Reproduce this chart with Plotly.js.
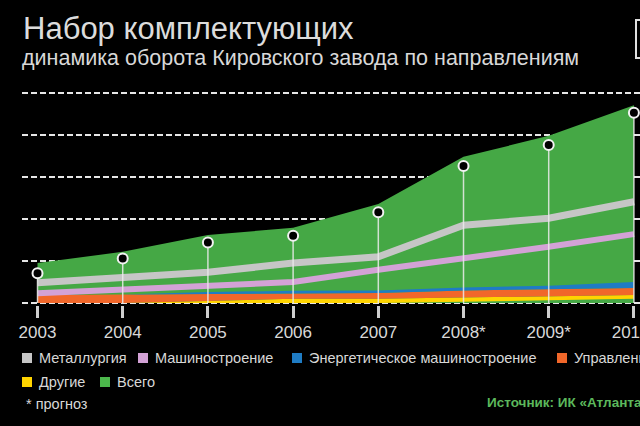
<!DOCTYPE html>
<html>
<head>
<meta charset="utf-8">
<script src="https://cdn.plot.ly/plotly-3.0.1.min.js"></script>
<style>
  html, body { margin: 0; padding: 0; background: #000; overflow: hidden; }
  #chart { width: 760px; height: 426px; }
</style>
</head>
<body>
<div id="chart"></div>
<script>
// Values (one grid step = 1 unit, no y labels shown).
const years = [2003, 2004, 2005, 2006, 2007, 2008, 2009, 2010];
const yearLabels = ["2003", "2004", "2005", "2006", "2007", "2008*", "2009*", "2010*"];
const totalTurnover = [0.95, 1.22, 1.62, 1.79, 2.36, 3.48, 3.98, 4.71];
const totalMarkers = [0.71, 1.06, 1.44, 1.6, 2.16, 3.26, 3.76, 4.53];
const metallurgy = [0.48, 0.6, 0.73, 0.95, 1.1, 1.85, 2.02, 2.41];
const machineBuilding = [0.23, 0.33, 0.43, 0.5, 0.79, 1.06, 1.34, 1.64];
// bottom bands, stacked: bottom edge of "Другие", then the top of each band
const otherBase = [0, 0, 0, 0, 0, 0.03, 0.07, 0.1];
const otherTop = [0, 0, 0.05, 0.1, 0.1, 0.13, 0.17, 0.19];
const realEstateTop = [0.19, 0.2, 0.21, 0.23, 0.24, 0.3, 0.33, 0.36];
const powerTop = [0.19, 0.2, 0.26, 0.29, 0.3, 0.37, 0.41, 0.5];
const gridValues = [0, 1, 2, 3, 4, 5];

const seriesNames = {
  metallurgy: "Металлургия",
  machine: "Машиностроение",
  power: "Энергетическое машиностроение",
  realEstate: "Управление недвижимостью",
  other: "Другие",
  total: "Всего",
};

const COLORS = {
  total: "#45a845",
  metallurgy: "#c6c6c6",
  machine: "#d3a2d6",
  power: "#1f7cc4",
  realEstate: "#f1672a",
  other: "#ffd400",
  text: "#d8d8d8",
  source: "#5cb85c",
};

const FONT = "Liberation Sans, Arial, sans-serif";

const WIDTH = 760;
const HEIGHT = 426;
const MARGIN = { l: 22, r: 0, t: 70, b: 121 };
const PLOT_W = WIDTH - MARGIN.l - MARGIN.r;
const PLOT_H = HEIGHT - MARGIN.t - MARGIN.b;

// pixel position in the 640x426 frame -> paper fraction
function px(x) {
  return (x - MARGIN.l) / PLOT_W;
}
function py(y) {
  return (MARGIN.t + PLOT_H - y) / PLOT_H;
}

function bandTrace(y, color, fill) {
  return {
    x: years,
    y,
    type: "scatter",
    mode: "lines",
    fill,
    fillcolor: color,
    line: { color, width: 0 },
    hoverinfo: "skip",
    showlegend: false,
  };
}

function lineTrace(y, color, width) {
  return {
    x: years,
    y,
    type: "scatter",
    mode: "lines",
    line: { color, width },
    hoverinfo: "skip",
    showlegend: false,
  };
}

function textNote(text, x, y, size, color, extra) {
  return Object.assign({
    text,
    xref: "paper",
    yref: "paper",
    x: px(x),
    y: py(y),
    xanchor: "left",
    yanchor: "middle",
    showarrow: false,
    font: { family: FONT, size, color },
  }, extra || {});
}

const traces = [
  bandTrace(totalTurnover, COLORS.total, "tozeroy"),
  bandTrace(otherBase, "rgba(0,0,0,0)", "none"),
  bandTrace(otherTop, COLORS.other, "tonexty"),
  bandTrace(realEstateTop, COLORS.realEstate, "tonexty"),
  bandTrace(powerTop, COLORS.power, "tonexty"),
  lineTrace(machineBuilding, COLORS.machine, 6),
  lineTrace(metallurgy, COLORS.metallurgy, 7),
  {
    x: years,
    y: totalMarkers,
    type: "scatter",
    mode: "markers",
    marker: { size: 10, color: "#000", line: { color: "#f2f2f2", width: 2 } },
    error_y: {
      type: "data",
      symmetric: false,
      array: totalMarkers.map(() => 0),
      arrayminus: totalMarkers,
      color: "rgba(235,235,235,0.85)",
      thickness: 1.5,
      width: 0,
    },
    hoverinfo: "skip",
    showlegend: false,
  },
];

// hand-laid legend, as in the source graphic
const legendItems = [
  { name: seriesNames.metallurgy, color: COLORS.metallurgy, x: 22, y: 358 },
  { name: seriesNames.machine, color: COLORS.machine, x: 138, y: 358 },
  { name: seriesNames.power, color: COLORS.power, x: 292, y: 358 },
  { name: seriesNames.realEstate, color: COLORS.realEstate, x: 557, y: 358 },
  { name: seriesNames.other, color: COLORS.other, x: 22, y: 382 },
  { name: seriesNames.total, color: "#4cb84c", x: 100, y: 382 },
];

const shapes = legendItems.map((item) => ({
  type: "rect",
  xref: "paper",
  yref: "paper",
  x0: px(item.x),
  x1: px(item.x + 10),
  y0: py(item.y + 5),
  y1: py(item.y - 5),
  fillcolor: item.color,
  line: { width: 0 },
}));

// cut-off frame at top right
shapes.push({
  type: "rect",
  xref: "paper",
  yref: "paper",
  x0: px(636),
  x1: px(720),
  y0: py(58),
  y1: py(20),
  line: { color: "#e0e0e0", width: 2 },
});

const annotations = legendItems.map((item) =>
  textNote(item.name, item.x + 15, item.y, 14.5, COLORS.text)
);

annotations.push(
  textNote("динамика оборота Кировского завода по направлениям", 20, 58, 21.5, COLORS.text),
  textNote("* прогноз", 24, 404, 14.5, COLORS.text),
  textNote("Источник: ИК «Атланта»", 485, 402, 13.5, COLORS.source, {
    font: { family: FONT, size: 13.5, color: COLORS.source, weight: "bold" },
  }),
);

const layout = {
  width: WIDTH,
  height: HEIGHT,
  margin: MARGIN,
  paper_bgcolor: "#000",
  plot_bgcolor: "#000",
  title: {
    text: "Набор комплектующих",
    x: 23 / WIDTH,
    xanchor: "left",
    y: 1 - 17 / HEIGHT,
    yanchor: "top",
    font: { family: FONT, size: 31, color: "#dcdcdc" },
  },
  xaxis: {
    range: [2002.818, 2002.818 + PLOT_W / 85.2],
    tickvals: years,
    ticktext: yearLabels,
    ticks: "outside",
    ticklen: 12,
    tickwidth: 3,
    tickcolor: "#cfcfcf",
    tickfont: { family: FONT, size: 17, color: COLORS.text },
    showgrid: false,
    zeroline: false,
    showline: false,
    fixedrange: true,
  },
  yaxis: {
    range: [-2 / 42, (PLOT_H - 2) / 42],
    tickvals: gridValues,
    showticklabels: false,
    showgrid: true,
    gridcolor: "#e6e6e6",
    gridwidth: 2,
    griddash: "6px,3px",
    zeroline: false,
    fixedrange: true,
  },
  shapes,
  annotations,
  showlegend: false,
};

Plotly.newPlot("chart", traces, layout, { staticPlot: true, displayModeBar: false });
</script>
</body>
</html>
